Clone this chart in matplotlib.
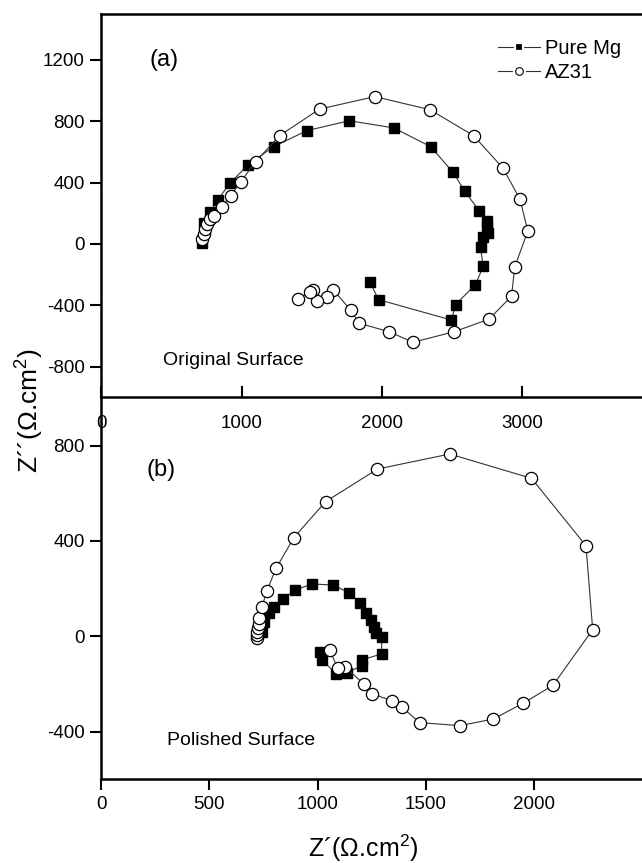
import matplotlib
matplotlib.use("Agg")
import matplotlib.pyplot as plt
from matplotlib.lines import Line2D

plt.rcParams['font.family'] = ['Liberation Sans', 'DejaVu Sans']
plt.rcParams['axes.unicode_minus'] = False
plt.rcParams['mathtext.fontset'] = 'custom'
plt.rcParams['mathtext.rm'] = 'Liberation Sans'

# (a) original surface
mg_a_re = [715, 731, 774, 829, 917, 1047, 1228, 1465, 1767, 2085, 2347, 2508, 2591,
           2693, 2746, 2750, 2757, 2722, 2703, 2722, 2667, 2525, 2496, 1976, 1914]
mg_a_im = [4, 135, 207, 287, 396, 517, 635, 739, 804, 757, 635, 467, 343,
           217, 148, 109, 72, 43, -22, -146, -265, -395, -496, -363, -246]
az_a_re = [720, 729, 741, 755, 775, 803, 857, 921, 995, 1100, 1271, 1556, 1950, 2342,
           2653, 2862, 2985, 3040, 2947, 2924, 2762, 2515, 2223, 2050, 1838, 1777,
           1653, 1608, 1539, 1508, 1484, 1399]
az_a_im = [33, 65, 98, 130, 160, 185, 243, 315, 407, 537, 707, 880, 961, 876,
           707, 496, 291, 83, -148, -341, -491, -572, -641, -572, -517, -430,
           -300, -343, -374, -298, -315, -359]

# (b) polished surface
mg_b_re = [743, 754, 774, 800, 841, 895, 975, 1071, 1146, 1197, 1224, 1246, 1262,
           1272, 1297, 1296, 1204, 1204, 1138, 1087, 1019, 1009]
mg_b_im = [20, 62, 97, 124, 157, 194, 220, 215, 183, 138, 97, 69, 38,
           13, -4, -74, -99, -123, -152, -158, -99, -67]
az_b_re = [720, 720, 722, 724, 727, 731, 743, 766, 808, 890, 1037, 1277, 1611, 1989,
           2241, 2272, 2088, 1952, 1813, 1658, 1472, 1390, 1345, 1252, 1215, 1125,
           1093, 1057]
az_b_im = [-8, 6, 20, 34, 52, 76, 124, 192, 285, 414, 565, 702, 765, 663,
           380, 28, -206, -280, -347, -375, -362, -297, -271, -241, -201, -127,
           -134, -59]

fig = plt.figure(figsize=(6.42, 8.63), dpi=100)
ax1 = fig.add_axes([0.1578, 0.5396, 0.8422, 0.4442])
ax2 = fig.add_axes([0.1578, 0.0970, 0.8422, 0.4418])

line_kw = dict(color='#333333', linewidth=0.8)
sq_kw = dict(marker='s', markersize=7.8, markerfacecolor='black', markeredgecolor='black')
ci_kw = dict(marker='o', markersize=8.8, markerfacecolor='white', markeredgecolor='black',
             markeredgewidth=0.9)

ax1.plot(mg_a_re, mg_a_im, **line_kw, **sq_kw)
ax1.plot(az_a_re, az_a_im, **line_kw, **ci_kw)
ax2.plot(mg_b_re, mg_b_im, **line_kw, **sq_kw)
ax2.plot(az_b_re, az_b_im, **line_kw, **ci_kw)

ax1.set_xlim(0, 3854)
ax1.set_ylim(-1000, 1500)
ax1.set_xticks([0, 1000, 2000, 3000])
ax1.set_yticks([-800, -400, 0, 400, 800, 1200])
ax1.spines['right'].set_visible(False)
ax1.tick_params(axis='x', direction='in', length=8, width=1.5, pad=13, labelsize=13.5)
ax1.tick_params(axis='y', direction='out', length=8, width=1.5, pad=4, labelsize=13.5)

ax2.set_xlim(0, 2500)
ax2.set_ylim(-600, 1000)
ax2.set_xticks([0, 500, 1000, 1500, 2000])
ax2.set_yticks([-400, 0, 400, 800])
ax2.spines['right'].set_visible(False)
ax2.spines['top'].set_visible(False)
ax2.tick_params(axis='both', direction='out', length=8, width=1.5, pad=4, labelsize=13.5)

for ax in (ax1, ax2):
    for s in ax.spines.values():
        s.set_linewidth(1.8)
    ax.patch.set_alpha(0)

ax1.text(0.090, 0.880, '(a)', transform=ax1.transAxes, fontsize=17, va='center')
ax1.text(0.114, 0.097, 'Original Surface', transform=ax1.transAxes, fontsize=14, va='center')
ax2.text(0.084, 0.811, '(b)', transform=ax2.transAxes, fontsize=17, va='center')
ax2.text(0.121, 0.103, 'Polished Surface', transform=ax2.transAxes, fontsize=14, va='center')

# legend handles: line with a small gap around the marker
lg_line = Line2D([], [], color='#333333', linewidth=0.8)
mg_h = (lg_line, Line2D([], [], ls='none', marker='s', markersize=6, markerfacecolor='black',
                        markeredgecolor='white', markeredgewidth=1.6))
az_h = (lg_line, Line2D([], [], ls='none', marker='o', markersize=8.5, markerfacecolor='white',
                        markeredgecolor='white'),
        Line2D([], [], ls='none', marker='o', markersize=5.5, markerfacecolor='white',
               markeredgecolor='black', markeredgewidth=0.8))
fig.legend([mg_h, az_h], ['Pure Mg', 'AZ31'], loc='upper left',
           bbox_to_anchor=(498 / 642, 1 - 39 / 863), frameon=False, fontsize=14.5,
           handlelength=2.1, handletextpad=0.25, labelspacing=0.25, borderpad=0,
           borderaxespad=0)

fig.text(0.045, 0.524, 'Z\u00b4\u00b4(\u03a9.cm$^2$)', rotation=90, fontsize=19,
         ha='center', va='center')
fig.text(0.565, 0.017, 'Z\u00b4(\u03a9.cm$^2$)', fontsize=18, ha='center', va='center')

fig.savefig('out.png', dpi=100)
